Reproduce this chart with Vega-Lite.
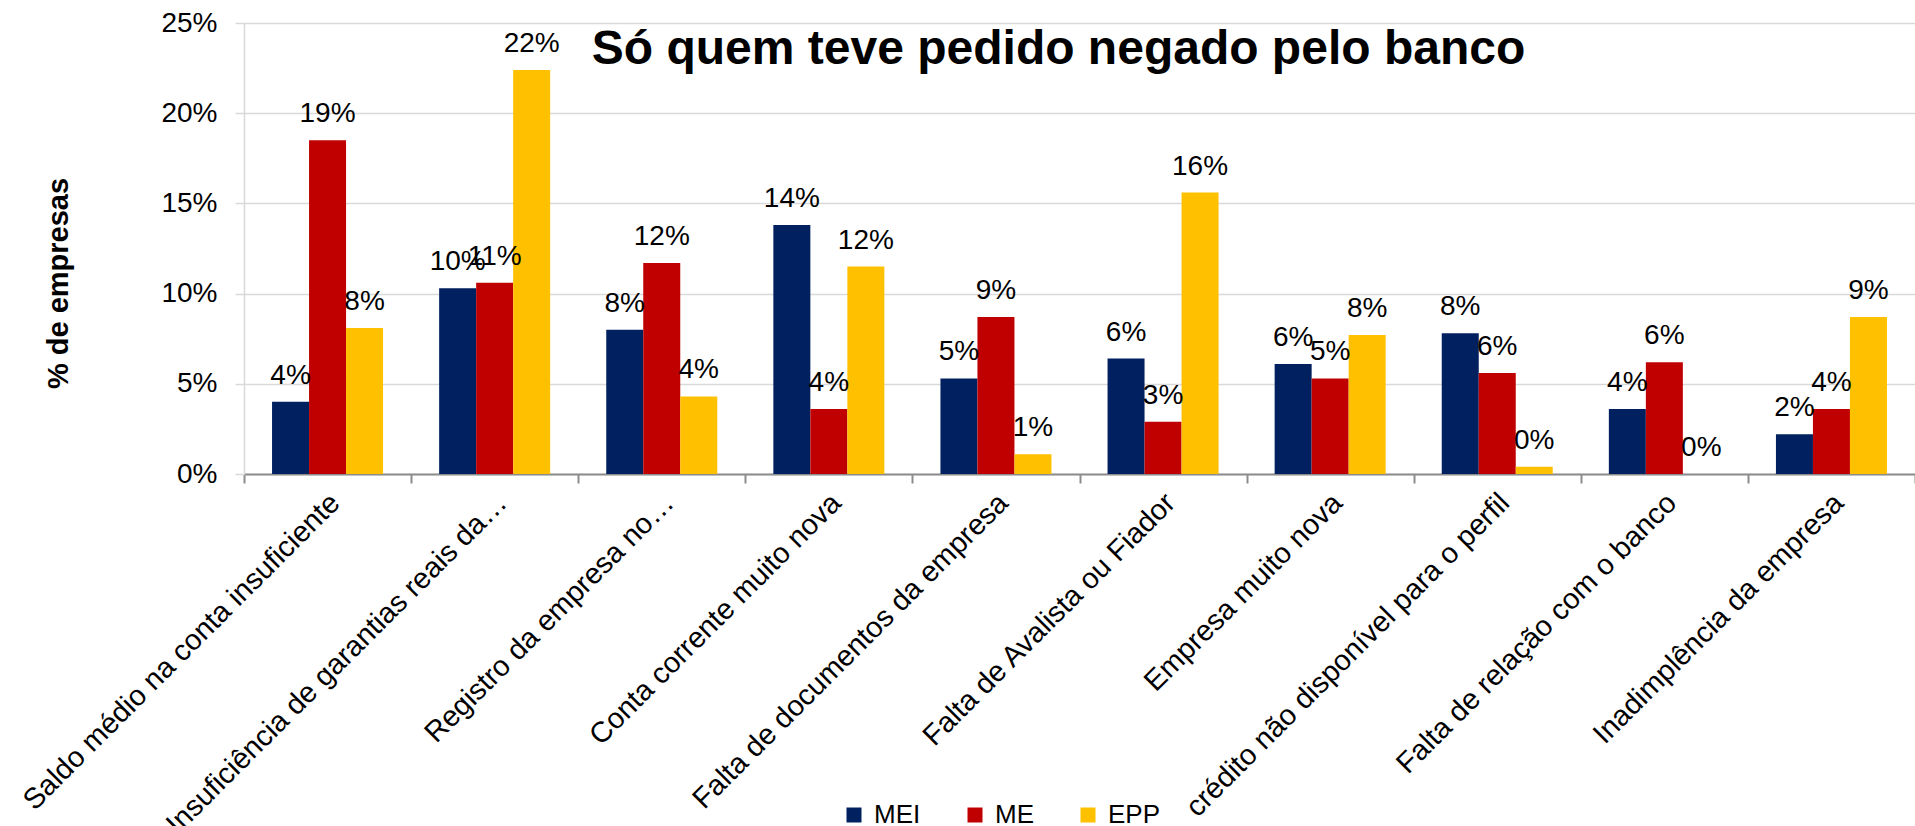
{
  "$schema": "https://vega.github.io/schema/vega-lite/v6.json",
  "width": 1671,
  "height": 451,
  "autosize": {"type": "none"},
  "padding": {"left": 244, "top": 23, "right": 0, "bottom": 352},
  "background": "white",
  "config": {"view": {"stroke": null}},
  "title": {
    "text": "Só quem teve pedido negado pelo banco",
    "fontSize": 48,
    "font": "Liberation Sans",
    "fontWeight": "bold",
    "color": "black",
    "anchor": "middle",
    "dx": -21,
    "baseline": "alphabetic",
    "offset": -103
  },
  "data": {
    "values": [
      {"reason": "Saldo médio na conta insuficiente", "series": "MEI", "value": 0.040},
      {"reason": "Saldo médio na conta insuficiente", "series": "ME", "value": 0.185},
      {"reason": "Saldo médio na conta insuficiente", "series": "EPP", "value": 0.081},
      {"reason": "Insuficiência de garantias reais da…", "series": "MEI", "value": 0.103},
      {"reason": "Insuficiência de garantias reais da…", "series": "ME", "value": 0.106},
      {"reason": "Insuficiência de garantias reais da…", "series": "EPP", "value": 0.224},
      {"reason": "Registro da empresa no…", "series": "MEI", "value": 0.080},
      {"reason": "Registro da empresa no…", "series": "ME", "value": 0.117},
      {"reason": "Registro da empresa no…", "series": "EPP", "value": 0.043},
      {"reason": "Conta corrente muito nova", "series": "MEI", "value": 0.138},
      {"reason": "Conta corrente muito nova", "series": "ME", "value": 0.036},
      {"reason": "Conta corrente muito nova", "series": "EPP", "value": 0.115},
      {"reason": "Falta de documentos da empresa", "series": "MEI", "value": 0.053},
      {"reason": "Falta de documentos da empresa", "series": "ME", "value": 0.087},
      {"reason": "Falta de documentos da empresa", "series": "EPP", "value": 0.011},
      {"reason": "Falta de Avalista ou Fiador", "series": "MEI", "value": 0.064},
      {"reason": "Falta de Avalista ou Fiador", "series": "ME", "value": 0.029},
      {"reason": "Falta de Avalista ou Fiador", "series": "EPP", "value": 0.156},
      {"reason": "Empresa muito nova", "series": "MEI", "value": 0.061},
      {"reason": "Empresa muito nova", "series": "ME", "value": 0.053},
      {"reason": "Empresa muito nova", "series": "EPP", "value": 0.077},
      {"reason": "crédito não disponível para o perfil", "series": "MEI", "value": 0.078},
      {"reason": "crédito não disponível para o perfil", "series": "ME", "value": 0.056},
      {"reason": "crédito não disponível para o perfil", "series": "EPP", "value": 0.004},
      {"reason": "Falta de relação com o banco", "series": "MEI", "value": 0.036},
      {"reason": "Falta de relação com o banco", "series": "ME", "value": 0.062},
      {"reason": "Falta de relação com o banco", "series": "EPP", "value": 0.0},
      {"reason": "Inadimplência da empresa", "series": "MEI", "value": 0.022},
      {"reason": "Inadimplência da empresa", "series": "ME", "value": 0.036},
      {"reason": "Inadimplência da empresa", "series": "EPP", "value": 0.087}
    ]
  },
  "encoding": {
    "x": {
      "field": "reason",
      "type": "nominal",
      "sort": null,
      "scale": {"paddingInner": 0, "paddingOuter": 0},
      "axis": {
        "title": null,
        "tickBand": "extent",
        "labelAngle": -45,
        "labelAlign": "right",
        "labelBaseline": "top",
        "labelOffset": -3,
        "labelPadding": 5,
        "labelFontSize": 29,
        "labelFont": "Liberation Sans",
        "labelColor": "black",
        "labelLimit": 2000,
        "labelOverlap": false,
        "tickSize": 9,
        "tickColor": "#8c8c8c",
        "tickWidth": 2,
        "domainColor": "#8c8c8c",
        "domainWidth": 2,
        "grid": false
      }
    },
    "xOffset": {
      "field": "series",
      "type": "nominal",
      "sort": ["MEI", "ME", "EPP"],
      "scale": {"paddingInner": 0, "paddingOuter": 0.758}
    },
    "y": {
      "field": "value",
      "type": "quantitative",
      "scale": {"domain": [0, 0.25], "nice": false},
      "axis": {
        "values": [0, 0.05, 0.1, 0.15, 0.2, 0.25],
        "format": ".0%",
        "title": "% de empresas",
        "titleFontSize": 29,
        "titleFont": "Liberation Sans",
        "titleFontWeight": "bold",
        "titleColor": "black",
        "titleAngle": -90,
        "titleX": -186,
        "titleY": 260,
        "titleAlign": "center",
        "titleBaseline": "middle",
        "labelFontSize": 28,
        "labelFont": "Liberation Sans",
        "labelColor": "black",
        "labelPadding": 18,
        "tickSize": 9,
        "tickColor": "#d9d9d9",
        "tickWidth": 1.5,
        "domainColor": "#d9d9d9",
        "domainWidth": 1.5,
        "grid": true,
        "gridColor": "#d9d9d9",
        "gridWidth": 1.5
      }
    }
  },
  "layer": [
    {
      "mark": {"type": "bar"},
      "encoding": {
        "color": {
          "field": "series",
          "type": "nominal",
          "scale": {"domain": ["MEI", "ME", "EPP"], "range": ["#002060", "#C00000", "#FFC000"]},
          "legend": {
            "orient": "none",
            "legendX": 597,
            "legendY": 779,
            "direction": "horizontal",
            "title": null,
            "symbolType": "square",
            "symbolSize": 225,
            "symbolStrokeWidth": 0,
            "labelFontSize": 26,
            "labelFont": "Liberation Sans",
            "labelColor": "black",
            "labelOffset": 7,
            "columnPadding": 41,
            "padding": 0
          }
        }
      }
    },
    {
      "mark": {"type": "text", "dy": -18, "baseline": "alphabetic", "fontSize": 28, "font": "Liberation Sans", "color": "black"},
      "encoding": {
        "text": {"field": "value", "type": "quantitative", "format": ".0%"}
      }
    }
  ]
}
